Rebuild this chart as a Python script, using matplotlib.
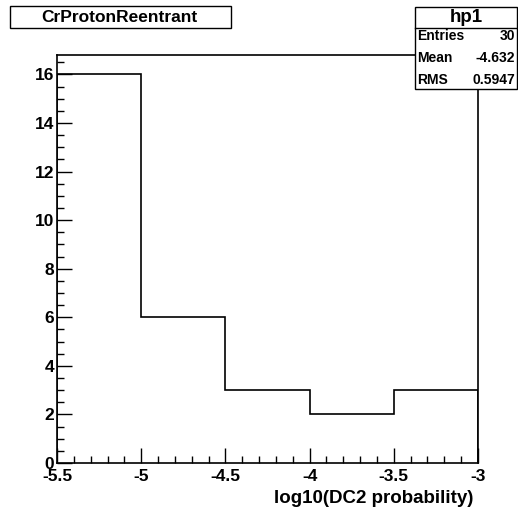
import matplotlib.pyplot as plt
import numpy as np
from matplotlib.ticker import MultipleLocator
from matplotlib.patches import Rectangle

plt.rcParams['font.family'] = ['Liberation Sans', 'DejaVu Sans']
plt.rcParams['font.weight'] = 'bold'

# histogram contents, log10(DC2 probability)
bin_edges = [-5.5, -5.0, -4.5, -4.0, -3.5, -3.0]
counts = [16, 6, 3, 2, 3]
hist_name = "hp1"
title = "CrProtonReentrant"
stats_labels = ["Entries", "Mean", "RMS"]
stats_values = ["30", "-4.632", "0.5947"]

W, H = 518, 508
fig = plt.figure(figsize=(W / 100, H / 100), dpi=100)
ax = fig.add_axes([57 / W, 1 - 463 / H, (478 - 57) / W, (463 - 55) / H])

ax.stairs(counts, bin_edges, color='black', linewidth=1.2)
ax.set_xlim(-5.5, -3.0)
ax.set_ylim(0, max(counts) * 1.05)

ax.xaxis.set_major_locator(MultipleLocator(0.5))
ax.xaxis.set_minor_locator(MultipleLocator(0.1))
ax.yaxis.set_major_locator(MultipleLocator(2))
ax.yaxis.set_minor_locator(MultipleLocator(0.5))
ax.tick_params(which='major', direction='in', length=11, width=1, labelsize=12.5, pad=2)
ax.tick_params(axis='x', which='major', pad=4.5)
ax.tick_params(which='minor', direction='in', length=5, width=1)
ax.tick_params(top=False, right=False, which='both')
ax.set_xticklabels([f"{v:g}" for v in ax.get_xticks()], fontweight='bold')
for lab in ax.get_yticklabels():
    lab.set_fontweight('bold')
for s in ax.spines.values():
    s.set_linewidth(1.2)

ax.set_xlabel("log10(DC2 probability)", fontsize=13.5, fontweight='bold', loc='right')
ax.xaxis.set_label_coords((473 - 57) / 421, -0.065)

# title box
fig.patches.append(Rectangle((10 / W, 1 - 28 / H), 221 / W, 22 / H, transform=fig.transFigure,
                             facecolor='white', edgecolor='black', linewidth=1))
fig.text(119 / W, 1 - 17 / H, title, ha='center', va='center', fontsize=12.5, fontweight='bold')

# stats box
x0, x1, y0, y1 = 415, 517, 7, 89
fig.patches.append(Rectangle((x0 / W, 1 - y1 / H), (x1 - x0) / W, (y1 - y0) / H,
                             transform=fig.transFigure, facecolor='white', edgecolor='black',
                             linewidth=1, zorder=5))
fig.lines.append(plt.Line2D([x0 / W, x1 / W], [1 - 28 / H, 1 - 28 / H], transform=fig.transFigure,
                            color='black', linewidth=1, zorder=6))
fig.text((x0 + x1) / 2 / W, 1 - 17 / H, hist_name, ha='center', va='center', fontsize=13.5,
         fontweight='bold', zorder=6)
for i, (lab, val) in enumerate(zip(stats_labels, stats_values)):
    yy = 1 - (36 + i * 22) / H
    fig.text(417 / W, yy, lab, ha='left', va='center', fontsize=10, fontweight='bold', zorder=6)
    fig.text(515 / W, yy, val, ha='right', va='center', fontsize=10, fontweight='bold', zorder=6)

fig.savefig("out.png", dpi=100)
